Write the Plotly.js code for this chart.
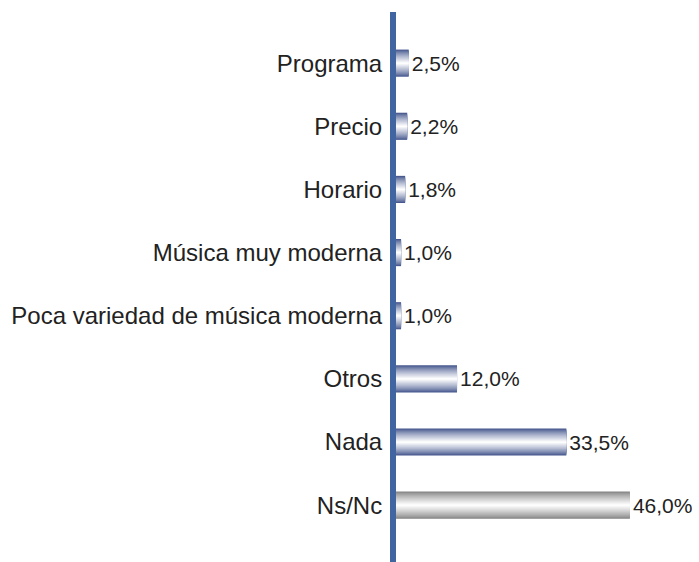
<!DOCTYPE html>
<html>
<head>
<meta charset="utf-8">
<script src="https://cdn.plot.ly/plotly-3.0.1.min.js"></script>
<style>html,body{margin:0;padding:0;background:#fff;}#chart{width:699px;height:562px;}</style>
</head>
<body>
<div id="chart"></div>
<script>
const categories = ["Programa", "Precio", "Horario", "Música muy moderna", "Poca variedad de música moderna", "Otros", "Nada", "Ns/Nc"];
const values = [2.5, 2.2, 1.8, 1.0, 1.0, 12.0, 33.5, 46.0];
const valueLabels = values.map(v => v.toFixed(1).replace('.', ',') + '%');

// gradient styling (layered overlay bars)
const blueDark = [70, 88, 142];
const grayDark = [132, 132, 132];
const nLayers = 14;
const fullWidth = 0.43;
function mix(c, t) {
  return 'rgb(' + c.map(v => Math.round(v + (255 - v) * t)).join(',') + ')';
}

const traces = [];
for (let i = 0; i < nLayers; i++) {
  const f = i / (nLayers - 1);
  const w = fullWidth * (1 - f) + 0.02 * f;
  const t = Math.pow(f, 0.8);
  traces.push({
    type: 'bar',
    orientation: 'h',
    y: categories,
    x: values,
    width: w,
    offset: -w / 2,
    marker: {
      color: categories.map(c => c === "Ns/Nc" ? mix(grayDark, t) : mix(blueDark, t)),
      line: {width: 0}
    },
    text: i === 0 ? valueLabels : undefined,
    textposition: i === 0 ? 'outside' : 'none',
    textfont: {family: 'Liberation Sans, Arial, sans-serif', size: 21, color: '#222'},
    cliponaxis: false,
    hoverinfo: 'skip',
    showlegend: false
  });
}

const layout = {
  width: 699,
  height: 562,
  margin: {l: 396, r: 3, t: 12, b: 0},
  paper_bgcolor: '#ffffff',
  plot_bgcolor: '#ffffff',
  barmode: 'overlay',
  font: {family: 'Liberation Sans, Arial, sans-serif', color: '#222'},
  xaxis: {
    range: [0, 59],
    showgrid: false,
    zeroline: false,
    showline: false,
    showticklabels: false,
    ticks: ''
  },
  yaxis: {
    type: 'category',
    range: [7.9, -0.81],
    showgrid: false,
    zeroline: false,
    showline: true,
    linecolor: '#4065a0',
    linewidth: 6,
    ticks: '',
    ticklabelstandoff: 3,
    tickfont: {family: 'Liberation Sans, Arial, sans-serif', size: 24, color: '#222'}
  }
};

Plotly.newPlot('chart', traces, layout, {displayModeBar: false, staticPlot: true});
</script>
</body>
</html>
